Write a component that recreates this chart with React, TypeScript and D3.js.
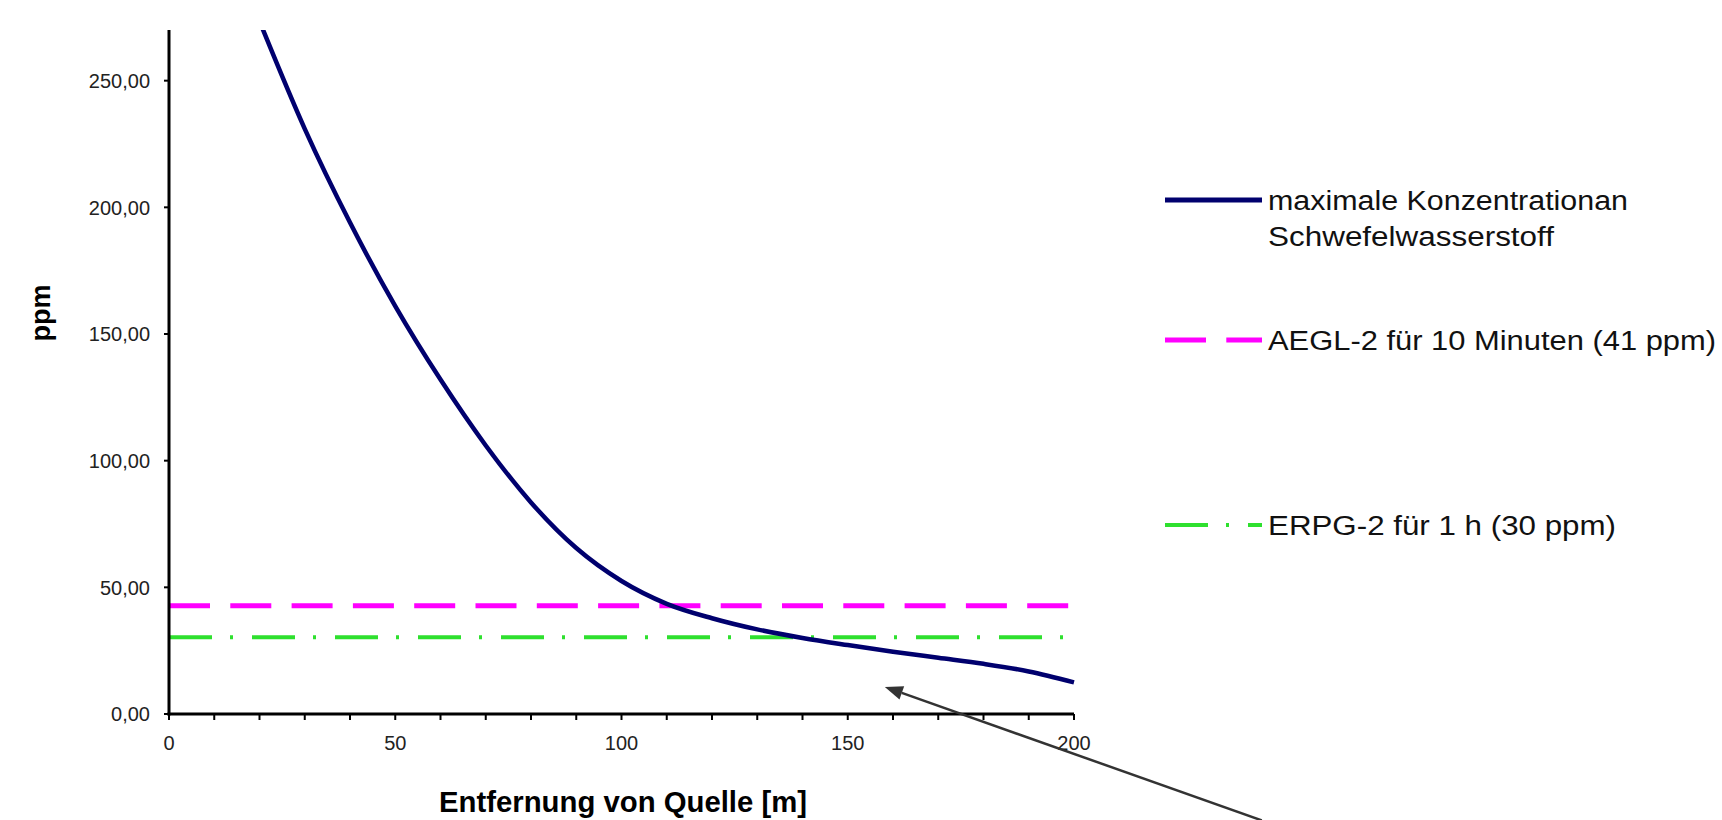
import React from "react";
import * as d3 from "d3";

const distances = [20, 30, 40, 50, 60, 70, 80, 90, 100, 110, 120, 130, 140, 150, 160, 170, 180, 190, 200];
const concentration = [273.5, 231, 194, 161, 132, 106, 83.5, 65.5, 52.5, 43.5, 37.8, 33.4, 30, 27.2, 24.6, 22.2, 19.8, 16.8, 12.5];
const aeglValue = 42.7;
const erpgValue = 30.3;
const yTicks = [0, 50, 100, 150, 200, 250];
const xMinorTicks = d3.range(0, 201, 10);
const xLabelTicks = [0, 50, 100, 150, 200];
const legendLabels = [
  ["maximale Konzentrationan", "Schwefelwasserstoff"],
  ["AEGL-2 für 10 Minuten (41 ppm)"],
  ["ERPG-2  für 1 h (30 ppm)"],
];
const arrowTip = { x: 158.2, y: 10.7 };
const arrowTail = { x: 241.5, y: -42 };

const W = 1722;
const H = 820;
const plot = { left: 169, right: 1074, top: 30, bottom: 714 };

export default function App() {
  const x = d3.scaleLinear().domain([0, 200]).range([plot.left, plot.right]);
  const y = d3.scaleLinear().domain([0, 270]).range([plot.bottom, plot.top]);
  const pts = distances.map((d, i) => [d, concentration[i]] as [number, number]);
  const line = d3
    .line<[number, number]>()
    .x((d) => x(d[0]))
    .y((d) => y(d[1]))
    .curve(d3.curveMonotoneX);
  const fmt = (v: number) => d3.format(".2f")(v).replace(".", ",");
  const font = "'Liberation Sans', Arial, sans-serif";

  const navy = "#00006e";
  const magenta = "#ff00ff";
  const green = "#2ee02e";

  const legX1 = 1165;
  const legX2 = 1262;
  const legTextX = 1268;
  const legY = [200, 340, 525];
  const legWidths = [[360, 286], [448], [348]];
  const legStyles = [
    { stroke: navy, dash: undefined as string | undefined, w: 5 },
    { stroke: magenta, dash: "41 20.3", w: 5 },
    { stroke: green, dash: "43 18 3 19", w: 4 },
  ];

  const tx = x(arrowTip.x), ty = y(arrowTip.y);
  const sx = x(arrowTail.x), sy = y(arrowTail.y);
  const ang = Math.atan2(ty - sy, tx - sx);
  const hl = 18, hw = 7;
  const bx = tx - hl * Math.cos(ang), by = ty - hl * Math.sin(ang);
  const head = [
    [tx, ty],
    [bx + hw * Math.sin(ang), by - hw * Math.cos(ang)],
    [bx - hw * Math.sin(ang), by + hw * Math.cos(ang)],
  ];

  return (
    <svg
      width={W}
      height={H}
      style={{ position: "absolute", left: 0, top: 0, display: "block", background: "#fff" }}
      fontFamily={font}
    >
      <defs>
        <clipPath id="plotclip">
          <rect x={plot.left} y={plot.top} width={plot.right - plot.left + 10} height={plot.bottom - plot.top} />
        </clipPath>
      </defs>

      <line x1={x(0)} x2={x(200)} y1={y(aeglValue)} y2={y(aeglValue)} stroke={magenta} strokeWidth={5} strokeDasharray="41 20.3" />
      <line x1={x(0)} x2={x(200)} y1={y(erpgValue)} y2={y(erpgValue)} stroke={green} strokeWidth={4} strokeDasharray="43 18 3 19" />

      <path d={line(pts) || ""} fill="none" stroke={navy} strokeWidth={4.5} clipPath="url(#plotclip)" strokeLinejoin="round" />

      <line x1={plot.left} x2={plot.left} y1={plot.top} y2={plot.bottom + 1.5} stroke="#000" strokeWidth={3} />
      <line x1={plot.left - 1.5} x2={plot.right} y1={plot.bottom} y2={plot.bottom} stroke="#000" strokeWidth={3} />
      {yTicks.map((t) => (
        <g key={"y" + t}>
          <line x1={plot.left - 5} x2={plot.left} y1={y(t)} y2={y(t)} stroke="#000" strokeWidth={2} />
          <text x={150} y={y(t)} dy="0.36em" textAnchor="end" fontSize={20} fill="#222">
            {fmt(t)}
          </text>
        </g>
      ))}
      {xMinorTicks.map((t) => (
        <line key={"xm" + t} x1={x(t)} x2={x(t)} y1={plot.bottom} y2={plot.bottom + 6} stroke="#000" strokeWidth={2} />
      ))}
      {xLabelTicks.map((t) => (
        <text key={"xl" + t} x={x(t)} y={743} dy="0.36em" textAnchor="middle" fontSize={20} fill="#222">
          {t}
        </text>
      ))}

      <text
        transform={`translate(50,${313}) rotate(-90)`}
        textAnchor="middle"
        fontSize={27}
        fontWeight="bold"
        fill="#000"
      >
        ppm
      </text>
      <text x={623} y={812} textAnchor="middle" fontSize={29} fontWeight="bold" fill="#000" textLength={368} lengthAdjust="spacingAndGlyphs">
        Entfernung von Quelle [m]
      </text>

      {legendLabels.map((lines, i) => (
        <g key={"leg" + i}>
          <line
            x1={legX1}
            x2={legX2}
            y1={legY[i]}
            y2={legY[i]}
            stroke={legStyles[i].stroke}
            strokeWidth={legStyles[i].w}
            strokeDasharray={legStyles[i].dash}
          />
          {lines.map((ln, j) => (
            <text
              key={j}
              x={legTextX}
              y={legY[i] + j * 36}
              dy="0.36em"
              fontSize={27}
              fill="#111"
              textLength={legWidths[i][j]}
              lengthAdjust="spacingAndGlyphs"
            >
              {ln}
            </text>
          ))}
        </g>
      ))}

      <line x1={sx} y1={sy} x2={bx} y2={by} stroke="#333" strokeWidth={2.5} />
      <polygon points={head.map((p) => p.join(",")).join(" ")} fill="#333" />
    </svg>
  );
}
